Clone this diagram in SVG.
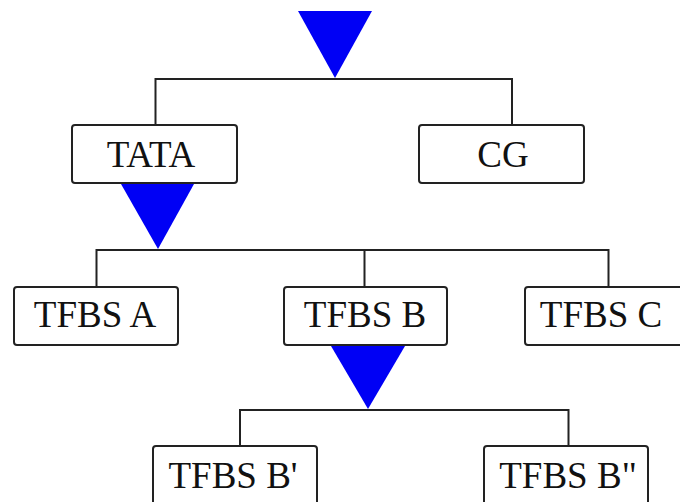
<svg xmlns="http://www.w3.org/2000/svg" width="680" height="502" viewBox="0 0 680 502">
<style>
.box{fill:#fff;stroke:#222;stroke-width:2}
.lbl{font-family:"Liberation Serif","Times New Roman",serif;font-size:37px;fill:#111;text-anchor:middle}
.con{fill:none;stroke:#222;stroke-width:2}
.tri{fill:#0000f5}
</style>
<rect width="680" height="502" fill="#fff"/>
<g id="connectors">
<path class="con" d="M155.5,125 V79 H512 V125"/>
<path class="con" d="M96.5,287 V250 H608.5 V287 M364.5,250 V287"/>
<path class="con" d="M240,446 V410 H568.5 V446"/>
</g>
<g id="node-tata"><rect class="box" x="72" y="125" width="165" height="58" rx="3"/><text class="lbl" x="151" y="167">TATA</text></g>
<g id="node-cg"><rect class="box" x="419" y="125" width="165" height="58" rx="3"/><text class="lbl" x="503" y="167">CG</text></g>
<g id="node-tfbs-a"><rect class="box" x="14" y="287" width="164" height="58" rx="3"/><text class="lbl" x="95" y="327">TFBS A</text></g>
<g id="node-tfbs-b"><rect class="box" x="284" y="287" width="163" height="58" rx="3"/><text class="lbl" x="365" y="327">TFBS B</text></g>
<g id="node-tfbs-c"><rect class="box" x="525" y="287" width="160" height="58" rx="3"/><text class="lbl" x="601" y="327">TFBS C</text></g>
<g id="node-tfbs-b1"><rect class="box" x="153" y="446" width="164" height="62" rx="3"/><text class="lbl" x="233" y="488">TFBS B'</text></g>
<g id="node-tfbs-b2"><rect class="box" x="484" y="446" width="164" height="62" rx="3"/><text class="lbl" x="568" y="488">TFBS B"</text></g>
<g id="markers">
<polygon class="tri" points="298,11 372,11 335,78"/>
<polygon class="tri" points="121,184 194,184 158,249"/>
<polygon class="tri" points="331,346 405,346 368,409"/>
</g>
</svg>
